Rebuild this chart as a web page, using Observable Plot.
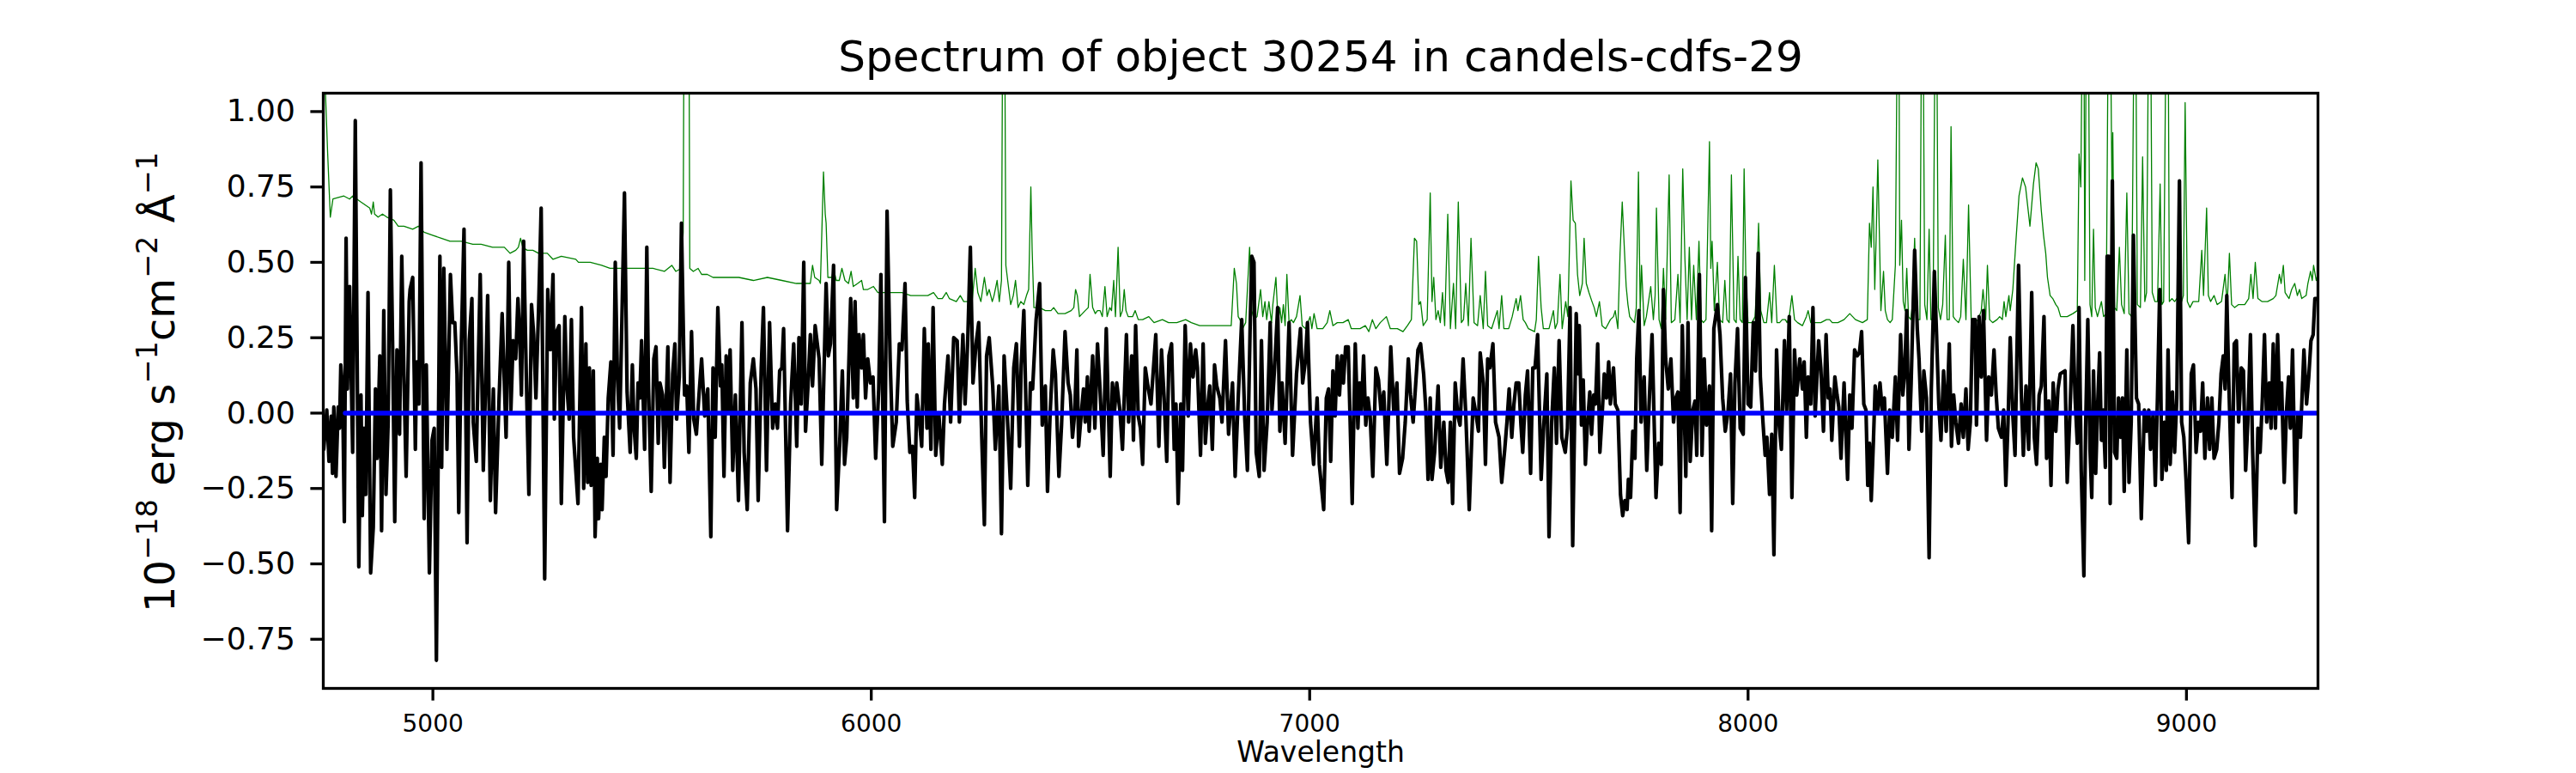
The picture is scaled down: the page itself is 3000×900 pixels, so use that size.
<!DOCTYPE html>
<html>
<head>
<meta charset="utf-8">
<script src="https://cdn.jsdelivr.net/npm/d3@7"></script>
<script src="https://cdn.jsdelivr.net/npm/@observablehq/plot@0.6"></script>
<style>
html, body { margin: 0; padding: 0; background: #fff; }
#chart { width: 3000px; height: 900px; }
</style>
</head>
<body>
<div id="chart"></div>
<script>
const titleText = "Spectrum of object 30254 in candels-cdfs-29";
const xLabelText = "Wavelength";
const yLabelParts = [["10", false], ["\u221218", true], [" erg s", false], ["\u22121", true], ["cm", false], ["\u22122", true], [" \u00C5", false], ["\u22121", true]];
const xTicks = [5000, 6000, 7000, 8000, 9000];
const yTicks = [-0.75, -0.5, -0.25, 0, 0.25, 0.5, 0.75, 1.0];
const xDomain = [4750, 9300];
const yDomain = [-0.913, 1.061];

// observed flux [wavelength, flux]
const flux = [
[4751,-0.12],[4758,0.01],[4763,-0.16],[4768,-0.01],[4771,-0.20],[4774,0.02],[4779,-0.21],[4784,0.02],[4787,-0.05],[4790,0.16],[4794,0.08],[4798,-0.36],[4802,0.58],[4805,0.08],[4810,0.42],[4813,0.18],[4817,-0.13],[4823,0.97],[4831,-0.51],[4836,0.06],[4839,-0.34],[4843,-0.05],[4847,-0.27],[4852,0.40],[4858,-0.53],[4864,-0.38],[4869,0.08],[4873,-0.15],[4879,0.19],[4883,-0.39],[4888,0.34],[4893,-0.27],[4898,-0.03],[4903,0.74],[4908,0.24],[4913,-0.36],[4918,0.21],[4924,-0.07],[4929,0.52],[4934,0.12],[4939,-0.21],[4946,0.37],[4948,0.41],[4954,0.45],[4960,-0.12],[4963,0.17],[4968,0.03],[4973,0.83],[4980,-0.35],[4985,0.16],[4992,-0.53],[4998,-0.09],[5003,-0.05],[5008,-0.82],[5016,0.52],[5020,-0.18],[5025,0.48],[5032,-0.12],[5040,0.46],[5045,0.30],[5050,0.30],[5055,0.13],[5059,-0.33],[5065,0.24],[5071,0.61],[5078,-0.43],[5083,0.24],[5089,0.38],[5092,-0.03],[5099,-0.16],[5102,0.06],[5108,0.46],[5115,-0.19],[5120,0.08],[5125,0.39],[5131,-0.29],[5138,0.08],[5143,-0.33],[5151,0.05],[5158,0.33],[5163,0.10],[5167,-0.08],[5173,0.50],[5178,0.01],[5183,0.24],[5189,0.18],[5194,0.38],[5198,0.26],[5202,0.06],[5207,0.57],[5213,0.13],[5219,-0.27],[5225,0.36],[5230,0.26],[5235,0.05],[5241,0.34],[5247,0.68],[5255,-0.55],[5262,0.41],[5268,0.21],[5274,0.46],[5277,-0.02],[5282,0.27],[5288,0.29],[5293,-0.30],[5301,0.32],[5305,0.10],[5311,-0.02],
[5316,0.31],[5321,-0.08],[5331,-0.30],[5339,0.35],[5344,-0.25],[5349,0.23],[5353,-0.23],[5357,0.15],[5361,-0.24],[5366,0.14],[5370,-0.41],[5375,-0.15],[5378,-0.35],[5383,-0.17],[5386,-0.32],[5391,-0.08],[5395,-0.21],[5400,0.05],[5406,0.17],[5411,-0.14],[5416,0.50],[5421,0.12],[5426,-0.05],[5432,0.37],[5437,0.73],[5443,0.07],[5450,-0.13],[5455,0.16],[5459,-0.05],[5464,-0.15],[5468,0.10],[5472,0.05],[5476,0.24],[5483,-0.12],[5488,0.55],[5492,0.08],[5498,-0.26],[5504,0.18],[5509,0.22],[5514,-0.10],[5518,0.10],[5524,0.06],[5528,-0.18],[5536,0.22],[5541,-0.23],[5547,0.13],[5552,0.23],[5556,-0.02],[5562,0.12],[5567,0.63],[5574,0.06],[5579,0.09],[5584,-0.13],[5590,0.27],[5595,-0.02],[5601,-0.07],[5607,0.06],[5613,0.18],[5620,-0.01],[5627,0.08],[5634,-0.41],[5639,0.15],[5644,-0.08],[5650,0.35],[5656,0.09],[5659,0.16],[5664,-0.21],[5669,0.19],[5673,0.00],[5678,0.21],[5684,-0.19],[5690,0.06],[5697,-0.29],[5705,0.30],[5710,-0.13],[5717,-0.32],[5724,0.10],[5731,0.18],[5737,0.08],[5742,-0.29],[5749,0.15],[5754,0.35],[5761,-0.19],[5768,0.30],[5775,-0.05],[5781,0.03],[5786,-0.05],[5791,0.14],[5796,0.15],[5800,0.28],[5809,-0.39],[5816,0.03],[5823,0.23],[5830,-0.11],[5835,0.25],[5840,0.03],[5846,0.50],[5850,-0.06],[5856,0.10],[5861,0.26],[5866,0.09],[5872,0.29],
[5881,0.18],[5887,-0.17],[5897,0.43],[5902,0.19],[5907,0.23],[5914,0.49],[5921,-0.32],[5928,-0.10],[5934,0.14],[5939,-0.17],[5944,-0.08],[5953,0.38],[5959,0.05],[5963,0.37],[5968,0.02],[5972,0.26],[5978,0.15],[5982,0.26],[5987,0.05],[5992,0.18],[5998,0.10],[6004,0.12],[6010,-0.15],[6017,0.08],[6022,0.46],[6030,-0.36],[6036,0.67],[6043,0.18],[6049,-0.11],[6057,-0.03],[6064,0.23],[6070,0.21],[6077,0.43],[6082,0.04],[6088,-0.13],[6094,-0.11],[6099,-0.28],[6104,0.06],[6109,-0.01],[6115,-0.11],[6121,0.28],[6127,-0.05],[6130,0.23],[6136,-0.12],[6141,0.35],[6147,-0.14],[6154,0.00],[6162,-0.17],[6167,0.03],[6175,0.19],[6181,-0.03],[6188,0.25],[6196,0.24],[6201,-0.03],[6209,0.26],[6214,0.03],[6220,0.24],[6226,0.55],[6232,0.10],[6239,0.23],[6245,0.30],[6252,-0.08],[6258,-0.37],[6263,0.19],[6269,0.25],[6277,0.09],[6283,-0.12],[6291,0.09],[6297,-0.40],[6303,0.19],[6310,0.00],[6318,-0.25],[6325,0.15],[6331,0.23],[6338,-0.11],[6342,0.16],[6348,0.34],[6357,-0.24],[6363,0.10],[6368,0.08],[6376,0.31],[6384,0.43],[6390,-0.04],[6397,0.09],[6402,-0.26],[6408,0.00],[6415,0.21],[6420,0.13],[6428,-0.21],[6434,-0.04],[6442,0.27],
[6449,0.10],[6454,0.06],[6459,-0.08],[6464,0.00],[6469,0.21],[6473,-0.11],[6478,-0.02],[6484,0.08],[6488,-0.03],[6493,0.12],[6497,-0.06],[6505,0.19],[6510,-0.05],[6516,0.23],[6521,0.10],[6529,-0.14],[6536,0.28],[6545,-0.21],[6550,0.10],[6555,0.01],[6560,0.10],[6567,0.01],[6573,-0.12],[6582,0.26],[6587,-0.03],[6594,0.19],[6598,-0.09],[6603,0.29],[6609,-0.01],[6614,-0.05],[6619,-0.17],[6625,0.15],[6632,0.08],[6638,0.03],[6649,0.26],[6656,-0.11],[6662,0.21],[6668,0.05],[6674,-0.16],[6679,0.19],[6685,0.23],[6691,-0.12],[6695,0.03],[6700,-0.30],[6706,0.03],[6710,-0.19],[6716,0.29],[6723,-0.01],[6728,0.23],[6734,0.12],[6740,0.21],[6744,0.15],[6751,-0.14],[6757,0.23],[6762,-0.10],[6768,0.03],[6772,0.09],[6778,-0.12],[6783,0.16],[6788,0.09],[6795,0.05],[6800,-0.03],[6808,0.24],[6815,-0.07],[6824,0.10],[6830,-0.21],[6837,0.05],[6845,0.31],[6852,-0.02],[6858,-0.19],[6864,0.27],[6868,0.52],[6873,0.50],[6878,-0.13],[6885,-0.21],[6890,0.24],[6896,-0.19],[6903,-0.03],[6910,0.30],[6914,0.01],[6920,0.15],[6927,0.35],[6932,-0.06],[6937,0.10],[6944,-0.10],[6953,0.30],[6961,-0.14],[6970,0.13],[6979,0.28],[6984,0.10],[6990,0.17],[6995,0.30],[7002,-0.03],[7009,-0.17],
[7017,0.05],[7022,-0.17],[7032,-0.32],[7038,0.05],[7043,0.08],[7048,-0.16],[7053,0.14],[7058,-0.01],[7063,0.19],[7068,0.06],[7073,0.19],[7077,0.10],[7082,0.22],[7088,0.22],[7097,-0.30],[7104,0.23],[7110,-0.05],[7114,0.10],[7118,0.01],[7123,0.19],[7128,-0.04],[7133,0.05],[7138,-0.01],[7144,-0.21],[7151,0.15],[7157,0.11],[7163,0.00],[7169,0.07],[7176,-0.17],[7185,0.22],[7192,0.00],[7199,0.10],[7205,-0.20],[7212,-0.15],[7218,-0.03],[7225,0.18],[7230,0.06],[7236,-0.03],[7242,0.10],[7247,0.21],[7253,0.23],[7260,0.13],[7265,0.01],[7270,-0.22],[7275,0.05],[7279,-0.22],[7285,-0.13],[7293,0.09],[7299,-0.18],[7306,-0.03],[7311,-0.19],[7316,-0.23],[7321,-0.03],[7326,-0.30],[7332,0.10],[7338,-0.01],[7343,-0.04],[7350,0.18],[7356,0.00],[7364,-0.32],[7373,0.05],[7379,0.00],[7385,-0.06],[7389,0.20],[7396,0.10],[7401,-0.17],[7406,0.18],[7411,0.15],[7418,0.23],[7424,-0.03],[7432,-0.08],[7438,-0.23],[7445,-0.12],[7450,-0.03],[7455,0.08],[7461,-0.08],[7466,0.03],[7471,0.10],[7477,0.10],[7482,-0.04],[7486,-0.13],[7492,0.06],[7497,0.14],[7504,-0.20],[7509,0.15],[7514,0.15],[7520,0.26],[7528,-0.22],[7534,-0.04],[7541,0.13],[7546,-0.41],[7552,-0.03],[7558,0.15],[7563,-0.10],[7569,0.24],[7575,-0.08],
[7583,-0.13],[7588,-0.05],[7594,0.35],[7600,-0.44],[7608,0.33],[7613,0.13],[7615,0.29],[7620,-0.04],[7624,0.11],[7629,-0.17],[7633,-0.05],[7639,0.07],[7643,-0.07],[7648,0.06],[7652,0.03],[7657,0.23],[7662,-0.13],[7667,-0.01],[7672,0.13],[7677,0.05],[7682,0.17],[7686,0.03],[7693,0.15],[7697,0.03],[7703,0.01],[7709,-0.27],[7714,-0.34],[7719,-0.29],[7724,-0.32],[7727,-0.22],[7732,-0.28],[7737,-0.06],[7742,-0.15],[7746,0.18],[7751,0.34],[7756,-0.03],[7763,0.12],[7769,-0.19],[7774,0.02],[7781,0.26],[7790,-0.28],[7796,-0.10],[7802,-0.17],[7807,0.41],[7812,0.18],[7818,0.08],[7824,0.18],[7830,-0.03],[7835,0.05],[7840,0.07],[7845,-0.33],[7850,0.29],[7858,-0.21],[7863,0.30],[7868,-0.16],[7874,0.01],[7879,0.04],[7883,-0.14],[7889,0.46],[7895,-0.14],[7900,0.18],[7905,-0.04],[7912,0.09],[7917,-0.39],[7922,0.28],[7930,0.36],[7936,0.26],[7942,0.05],[7948,-0.06],[7954,0.00],[7960,0.13],[7965,-0.30],[7970,0.10],[7976,0.28],[7982,-0.05],[7989,-0.07],[7994,0.45],[8000,0.03],[8006,0.02],[8012,0.30],[8017,0.14],[8023,0.53],[8028,0.12],[8034,-0.03],[8039,-0.14],[8043,-0.08],[8049,-0.27],[8054,-0.07],[8059,-0.47],[8065,0.21],[8071,-0.04],[8076,-0.12],[8083,0.24],[8088,0.01],[8094,0.32],[8100,-0.28],[8106,0.21],[8111,0.06],[8118,0.18],[8124,0.08],[8128,0.17],[8133,-0.08],[8137,0.12],[8143,0.03],[8148,0.35],[8153,-0.01],[8161,0.24],
[8166,0.15],[8172,-0.06],[8178,0.26],[8183,0.05],[8187,0.08],[8191,-0.09],[8198,0.12],[8203,0.06],[8207,0.02],[8212,-0.15],[8219,0.10],[8227,-0.22],[8232,0.06],[8237,-0.05],[8243,0.21],[8249,0.19],[8254,0.20],[8259,0.27],[8264,0.03],[8269,0.01],[8273,-0.24],[8277,-0.10],[8281,-0.29],[8286,-0.09],[8290,0.09],[8296,0.01],[8301,0.10],[8306,0.01],[8311,0.05],[8318,-0.20],[8323,0.01],[8329,-0.08],[8336,0.12],[8341,-0.09],[8348,0.26],[8353,0.06],[8357,0.13],[8362,0.34],[8367,-0.12],[8372,0.10],[8380,0.54],[8386,0.28],[8390,0.18],[8396,-0.06],[8401,0.14],[8407,0.05],[8413,-0.48],[8418,0.08],[8425,0.47],[8430,0.26],[8435,0.03],[8440,-0.09],[8446,0.14],[8452,-0.06],[8459,0.23],[8464,-0.11],[8469,0.06],[8474,-0.03],[8480,-0.10],[8486,0.03],[8491,-0.08],[8497,0.08],[8502,-0.12],[8507,-0.03],[8512,0.31],[8518,0.31],[8521,-0.04],[8527,0.32],[8532,0.12],[8537,0.34],[8544,-0.09],[8549,0.12],[8555,0.06],[8561,0.21],[8566,0.06],[8571,-0.05],[8578,-0.08],[8583,0.01],[8588,-0.24],[8593,-0.03],[8598,0.25],[8604,-0.01],[8609,-0.14],[8617,0.49],[8623,0.08],[8628,-0.14],[8634,0.09],[8640,-0.12],[8647,0.40],[8653,-0.08],[8658,-0.17],[8664,0.06],[8669,0.09],[8675,0.32],[8681,-0.15],[8686,0.04],[8691,-0.24],[8696,0.10],[8702,-0.06],[8707,0.08],[8712,0.13],
[8723,0.14],[8728,-0.23],[8734,-0.01],[8741,0.29],[8746,0.05],[8751,-0.10],[8755,0.35],[8760,-0.19],[8766,-0.54],[8770,-0.05],[8775,0.31],[8780,-0.12],[8784,-0.28],[8788,0.14],[8793,-0.20],[8797,0.01],[8802,0.20],[8806,-0.09],[8810,0.01],[8815,-0.18],[8819,0.52],[8823,0.52],[8826,-0.30],[8831,0.77],[8836,-0.13],[8841,-0.15],[8845,0.05],[8850,-0.08],[8854,0.05],[8858,-0.26],[8864,0.21],[8869,-0.23],[8874,-0.03],[8879,0.59],[8886,0.05],[8891,0.03],[8897,-0.35],[8904,0.01],[8909,-0.06],[8914,0.01],[8918,-0.12],[8924,0.00],[8929,-0.24],[8934,0.06],[8939,0.41],[8944,-0.22],[8950,-0.03],[8954,-0.19],[8958,0.21],[8963,-0.17],[8968,0.07],[8973,-0.13],[8978,0.05],[8984,0.77],[8989,-0.03],[8994,-0.08],[8999,-0.22],[9005,-0.43],[9011,0.13],[9016,0.16],[9022,-0.13],[9027,-0.03],[9032,-0.06],[9037,0.10],[9042,-0.15],[9048,0.05],[9053,-0.12],[9058,0.05],[9063,-0.15],[9069,-0.12],[9074,-0.03],[9079,0.13],[9084,0.19],[9088,0.08],[9092,0.39],[9097,0.08],[9104,-0.28],[9109,0.23],[9114,0.24],[9119,-0.03],[9125,0.15],[9130,0.14],[9135,-0.19],[9140,-0.03],[9146,0.26],[9151,-0.13],[9157,-0.44],[9163,-0.05],[9168,-0.13],[9173,0.04],[9178,0.26],[9183,-0.03],[9189,0.10],[9193,-0.05],[9198,0.23],[9203,-0.05],[9208,0.26],[9213,0.00],[9217,0.10],[9223,-0.23],[9228,0.00],[9233,0.12],[9237,-0.05],[9242,0.21],[9249,-0.33],[9254,0.00],[9260,-0.08],[9268,0.21],[9274,0.03],[9279,0.12],[9284,0.24],[9289,0.26],[9293,0.38],[9300,0.38]
];

// sky / noise spectrum [wavelength, value]
const sky = [
[4751,1.40],[4755,1.06],[4760,0.86],[4766,0.65],[4772,0.71],[4797,0.72],[4810,0.71],[4817,0.72],[4836,0.70],[4856,0.68],[4860,0.66],[4864,0.70],[4867,0.66],[4875,0.65],[4885,0.66],[4895,0.65],[4911,0.64],[4921,0.62],[4934,0.62],[4954,0.61],[4967,0.62],[4980,0.60],[4999,0.59],[5019,0.58],[5039,0.57],[5065,0.57],[5091,0.56],[5110,0.56],[5136,0.55],[5163,0.55],[5176,0.53],[5189,0.54],[5195,0.55],[5200,0.58],[5205,0.55],[5215,0.54],[5228,0.54],[5241,0.53],[5261,0.53],[5274,0.51],[5293,0.52],[5326,0.51],
[5332,0.50],[5359,0.50],[5385,0.49],[5404,0.48],[5424,0.48],[5443,0.48],[5463,0.48],[5483,0.48],[5502,0.48],[5528,0.47],[5545,0.49],[5554,0.47],[5567,0.48],[5571,0.60],[5573,1.40],[5584,1.40],[5586,0.48],[5594,0.47],[5605,0.48],[5613,0.46],[5626,0.46],[5639,0.45],[5672,0.45],[5698,0.45],[5731,0.44],[5763,0.45],[5796,0.44],[5829,0.43],[5848,0.43],[5861,0.43],[5866,0.49],[5871,0.45],[5881,0.44],[5884,0.43],
[5891,0.80],[5895,0.66],[5897,0.63],[5901,0.45],[5910,0.45],[5914,0.48],[5920,0.44],[5927,0.44],[5933,0.48],[5940,0.44],[5948,0.43],[5954,0.47],[5959,0.42],[5969,0.43],[5978,0.44],[5982,0.41],[5992,0.41],[6005,0.42],[6015,0.40],[6038,0.40],[6070,0.40],[6090,0.39],[6109,0.39],[6129,0.39],[6142,0.40],[6152,0.38],[6162,0.38],[6171,0.40],[6178,0.38],[6194,0.37],[6203,0.39],[6211,0.37],[6220,0.37],[6230,0.37],[6237,0.48],[6243,0.40],[6250,0.37],[6258,0.45],[6264,0.39],[6269,0.41],[6276,0.37],[6280,0.39],[6287,0.44],[6292,0.37],[6297,0.44],[6300,1.40],[6304,1.40],[6307,0.49],[6312,0.43],[6318,0.36],[6324,0.39],[6329,0.44],[6335,0.35],[6341,0.37],[6348,0.36],[6354,0.39],[6359,0.41],[6364,0.75],[6367,0.54],[6371,0.35],[6384,0.35],[6397,0.34],[6410,0.34],[6416,0.35],[6426,0.33],[6442,0.33],
[6456,0.34],[6462,0.35],[6466,0.41],[6470,0.39],[6475,0.32],[6488,0.34],[6495,0.35],[6499,0.46],[6505,0.35],[6511,0.33],[6516,0.34],[6522,0.34],[6527,0.32],[6533,0.42],[6538,0.32],[6544,0.35],[6548,0.34],[6553,0.44],[6557,0.32],[6563,0.55],[6568,0.32],[6573,0.34],[6577,0.41],[6581,0.34],[6586,0.32],[6596,0.32],[6602,0.34],[6609,0.31],[6619,0.31],[6633,0.32],[6645,0.30],[6664,0.31],[6678,0.30],[6697,0.30],[6717,0.31],[6730,0.30],[6749,0.29],[6769,0.29],[6795,0.29],[6821,0.29],[6828,0.48],[6833,0.43],[6837,0.32],[6841,0.31],[6847,0.28],[6854,0.30],[6863,0.55],[6868,0.34],[6873,0.31],[6880,0.32],[6888,0.41],[6893,0.32],[6898,0.37],[6902,0.31],[6907,0.37],[6913,0.30],[6916,0.36],[6923,0.45],[6928,0.30],[6932,0.35],[6936,0.30],[6940,0.36],[6944,0.29],[6948,0.46],[6953,0.30],[6958,0.31],[6963,0.30],[6970,0.32],[6978,0.39],[6983,0.29],[6991,0.28],[7001,0.32],[7005,0.28],[7010,0.33],[7017,0.28],
[7030,0.28],[7040,0.30],[7046,0.34],[7053,0.29],[7063,0.30],[7076,0.30],[7088,0.31],[7095,0.28],[7115,0.28],[7127,0.29],[7135,0.27],[7143,0.31],[7151,0.28],[7161,0.30],[7175,0.32],[7184,0.28],[7200,0.28],[7213,0.27],[7223,0.29],[7232,0.31],[7239,0.58],[7244,0.57],[7249,0.36],[7253,0.37],[7259,0.29],[7268,0.31],[7275,0.73],[7279,0.37],[7283,0.45],[7288,0.31],[7293,0.34],[7298,0.30],[7303,0.40],[7308,0.29],[7315,0.66],[7321,0.28],[7328,0.43],[7333,0.28],[7339,0.70],[7346,0.30],[7351,0.31],[7356,0.43],[7362,0.29],[7368,0.58],[7375,0.30],[7383,0.29],[7389,0.39],[7396,0.28],[7401,0.47],[7406,0.29],[7415,0.28],[7428,0.34],[7432,0.28],[7438,0.39],[7443,0.28],[7454,0.28],[7462,0.32],[7471,0.38],[7475,0.34],[7481,0.39],[7487,0.31],[7492,0.30],[7499,0.28],[7513,0.27],[7517,0.31],[7522,0.52],[7528,0.35],[7533,0.28],[7539,0.28],[7546,0.28],[7556,0.34],[7560,0.28],[7565,0.30],[7571,0.46],[7576,0.28],[7584,0.37],[7589,0.32],[7596,0.77],
[7601,0.64],[7606,0.63],[7611,0.46],[7616,0.39],[7622,0.43],[7626,0.58],[7631,0.43],[7637,0.40],[7644,0.37],[7649,0.35],[7654,0.32],[7661,0.37],[7667,0.29],[7675,0.28],[7686,0.31],[7693,0.32],[7697,0.34],[7703,0.28],[7708,0.53],[7713,0.70],[7718,0.54],[7722,0.42],[7726,0.36],[7730,0.32],[7735,0.31],[7741,0.30],[7745,0.35],[7750,0.80],[7754,0.34],[7757,0.49],[7763,0.29],[7768,0.32],[7773,0.37],[7778,0.42],[7784,0.31],[7788,0.39],[7791,0.68],[7797,0.31],[7802,0.28],[7807,0.48],[7812,0.31],[7820,0.79],[7825,0.30],[7833,0.31],[7840,0.46],[7845,0.30],[7851,0.81],[7856,0.51],[7861,0.31],[7866,0.55],[7871,0.31],[7876,0.49],[7882,0.31],[7888,0.57],[7893,0.31],[7898,0.30],[7904,0.31],[7912,0.90],[7915,0.48],[7918,0.57],[7923,0.34],[7930,0.50],[7935,0.31],[7942,0.30],[7947,0.44],[7952,0.31],[7957,0.30],[7962,0.79],[7968,0.31],[7973,0.30],[7977,0.52],[7982,0.31],[7987,0.30],[7991,0.81],[7995,0.45],[8000,0.30],[8009,0.30],[8016,0.32],[8020,0.44],[8024,0.63],[8029,0.34],[8036,0.30],[8042,0.30],[8049,0.40],[8054,0.30],[8060,0.49],[8066,0.30],[8072,0.30],[8078,0.31],[8085,0.31],[8089,0.30],[8094,0.32],[8100,0.39],[8106,0.31],[8113,0.30],[8124,0.29],[8133,0.32],[8137,0.34],[8143,0.30],[8153,0.30],
[8166,0.30],[8179,0.31],[8186,0.31],[8192,0.30],[8205,0.30],[8219,0.31],[8232,0.33],[8245,0.31],[8261,0.30],[8272,0.31],[8277,0.63],[8281,0.55],[8285,0.75],[8289,0.41],[8292,0.57],[8296,0.84],[8301,0.49],[8303,0.34],[8309,0.47],[8313,0.34],[8318,0.31],[8324,0.30],[8329,0.31],[8336,0.49],[8341,1.40],[8344,1.40],[8346,0.49],[8350,0.64],[8354,0.37],[8358,0.34],[8362,0.48],[8366,0.32],[8371,0.31],[8375,0.36],[8380,0.58],[8385,0.31],[8392,0.31],[8396,1.40],[8399,1.40],[8403,0.36],[8408,0.31],[8413,0.61],[8417,0.31],[8422,0.31],[8427,1.40],[8430,1.40],[8434,0.35],[8439,0.31],[8444,0.36],[8450,0.59],[8454,0.31],[8459,0.31],[8463,0.95],[8468,0.32],[8473,0.31],[8480,0.30],[8485,0.32],[8491,0.51],[8497,0.31],[8503,0.69],[8509,0.31],[8516,0.30],[8525,0.31],[8532,0.34],[8536,0.41],[8542,0.31],[8546,0.49],[8551,0.31],[8558,0.30],[8568,0.31],[8574,0.32],[8580,0.31],[8584,0.37],[8588,0.32],[8595,0.39],[8598,0.34],[8604,0.41],[8611,0.57],[8618,0.72],[8626,0.78],[8633,0.75],[8643,0.62],[8651,0.76],[8657,0.83],[8662,0.81],[8669,0.67],[8674,0.59],[8679,0.53],[8683,0.45],[8689,0.39],[8695,0.38],[8702,0.36],[8707,0.35],[8713,0.32],[8721,0.32],
[8728,0.32],[8741,0.33],[8751,0.34],[8755,0.86],[8759,0.75],[8763,1.40],[8766,1.40],[8768,0.44],[8772,1.40],[8776,1.40],[8780,0.36],[8784,0.32],[8788,0.61],[8792,0.35],[8797,0.32],[8806,0.37],[8811,0.32],[8817,0.33],[8822,1.40],[8826,1.40],[8830,0.75],[8832,0.93],[8836,0.35],[8841,0.34],[8847,0.55],[8852,0.36],[8858,0.33],[8864,0.73],[8869,0.33],[8875,0.32],[8881,1.40],[8884,1.40],[8888,0.36],[8895,0.35],[8900,0.85],[8905,0.37],[8909,0.40],[8914,1.40],[8918,1.40],[8922,0.40],[8928,0.37],[8934,0.37],[8940,0.76],[8944,0.36],[8948,0.37],[8954,1.40],[8958,1.40],[8961,0.37],[8967,0.38],[8973,0.37],[8978,0.38],[8984,0.37],[8989,0.37],[8993,0.39],[8997,1.03],[9002,0.37],[9008,0.35],[9015,0.37],[9021,0.37],[9028,0.37],[9035,0.54],[9039,0.39],[9046,0.68],[9050,0.39],[9055,0.37],[9063,0.39],[9070,0.36],[9080,0.37],[9088,0.46],[9093,0.36],[9098,0.53],[9103,0.36],[9110,0.35],[9119,0.36],[9133,0.36],[9142,0.38],[9147,0.46],[9152,0.38],[9157,0.50],[9163,0.38],[9172,0.37],[9185,0.37],[9198,0.38],[9204,0.39],[9212,0.46],[9216,0.43],[9221,0.49],[9225,0.40],[9234,0.38],[9240,0.41],[9247,0.43],[9253,0.39],[9258,0.41],[9263,0.38],[9273,0.39],[9277,0.43],[9283,0.47],[9287,0.44],[9290,0.49],[9296,0.44],[9300,0.46]
];

// zero / continuum level [wavelength, value]
const zeroLine = [[4800, 0], [9300, 0]];

const X = d => d[0], Y = d => d[1];

const chart = Plot.plot({
  width: 3000,
  height: 900,
  marginLeft: 376,
  marginRight: 301,
  marginTop: 108,
  marginBottom: 99,
  style: { fontFamily: "DejaVu Sans", background: "white", color: "black", overflow: "visible" },
  x: { domain: xDomain, label: null },
  y: { domain: yDomain, label: null },
  marks: [
    Plot.line(sky, { x: X, y: Y, stroke: "green", strokeWidth: 1.3, clip: true }),
    Plot.line(flux, { x: X, y: Y, stroke: "black", strokeWidth: 4.2, clip: true }),
    Plot.line(zeroLine, { x: X, y: Y, stroke: "blue", strokeWidth: 5.5, clip: true }),
    Plot.frame({ stroke: "black", strokeWidth: 3.3 }),
    Plot.axisX({ ticks: xTicks, tickSize: 14.6, tickPadding: 16, fontSize: 28, strokeWidth: 3.3, tickFormat: d3.format("d"), label: null }),
    Plot.axisY({ ticks: yTicks, tickSize: 14.6, tickPadding: 18, fontSize: 36, strokeWidth: 3.3, tickFormat: d3.format(".2f"), label: null }),
    Plot.text([titleText], { frameAnchor: "top", lineAnchor: "middle", text: d => d, dy: -42, fontSize: 50 }),
    Plot.text([xLabelText], { frameAnchor: "bottom", lineAnchor: "middle", text: d => d, dy: 75, fontSize: 33 })
  ]
});

document.getElementById("chart").appendChild(chart);

// y-axis label with superscripts
const svg = d3.select(chart.tagName.toLowerCase() === "svg" ? chart : chart.querySelector("svg"));
const fs = 48;
const yl = svg.append("text")
  .attr("transform", "translate(203,445) rotate(-90)")
  .attr("text-anchor", "middle")
  .attr("font-family", "DejaVu Sans")
  .attr("font-size", fs)
  .attr("fill", "black")
  .style("white-space", "pre");
let raised = false;
for (const [str, sup] of yLabelParts) {
  const t = yl.append("tspan").text(str);
  if (sup && !raised) { t.attr("dy", -0.42 * fs); raised = true; }
  else if (!sup && raised) { t.attr("dy", 0.42 * fs); raised = false; }
  if (sup) t.attr("font-size", 0.7 * fs);
}
</script>
</body>
</html>
